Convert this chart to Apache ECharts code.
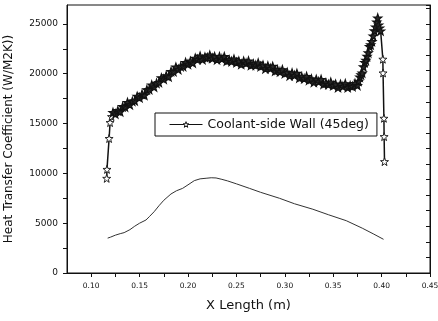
<!DOCTYPE html>
<html>
<head>
<meta charset="utf-8">
<script src="https://cdn.jsdelivr.net/npm/echarts@6/dist/echarts.min.js"></script>
<style>
html,body{margin:0;padding:0;background:#fff;}
#chart{width:438px;height:321px;}
</style>
</head>
<body>
<div id="chart"></div>
<script>
// Data
var legendName = 'Coolant-side Wall (45deg)';
var xAxisName = 'X Length (m)';
var yAxisName = 'Heat Transfer Coefficient (W/M2K))';

var wallX = [0.116,0.1163,0.1185,0.1195,0.121,
  0.1225,0.125,0.1275,0.13,0.1325,0.135,0.1375,0.14,0.1425,0.145,0.1475,0.15,0.1525,0.155,0.1575,0.16,0.1625,0.165,0.1675,0.17,0.1725,0.175,0.1775,0.18,0.1825,0.185,0.1875,0.19,0.1925,0.195,0.1975,0.2,0.2025,0.205,0.2075,0.21,0.2125,0.215,0.2175,0.22,0.2225,0.225,0.2275,0.23,0.2325,0.235,0.2375,0.24,0.2425,0.245,0.2475,0.25,0.2525,0.255,0.2575,0.26,0.2625,0.265,0.2675,0.27,0.2725,0.275,0.2775,0.28,0.2825,0.285,0.2875,0.29,0.2925,0.295,0.2975,0.3,0.3025,0.305,0.3075,0.31,0.3125,0.315,0.3175,0.32,0.3225,0.325,0.3275,0.33,0.3325,0.335,0.3375,0.34,0.3425,0.345,0.3475,0.35,0.3525,0.355,0.3575,0.36,0.3625,0.365,0.3675,0.37,0.3725,0.375,0.37625,0.3775,0.37875,0.38,0.38125,0.3825,0.38375,0.385,0.38625,0.3875,0.38875,0.39,0.39125,0.3925,0.39375,0.395,0.396,0.397,0.398,0.399,0.4013,0.4015,0.4024,0.4026,0.403];
var wallY = [9500,10400,13500,15100,15700,
  16110,15970,16300,16180,16700,16670,17110,16880,17230,17290,17730,17600,17950,17840,18390,18410,18880,18670,19050,19130,19590,19460,19810,19700,20230,20220,20670,20430,20730,20740,21130,20950,21250,21090,21560,21440,21770,21420,21660,21610,21870,21560,21720,21410,21720,21490,21720,21270,21400,21240,21470,21130,21270,20950,21270,21050,21290,20850,20990,20850,21080,20740,20850,20500,20780,20530,20740,20270,20380,20200,20400,20030,20140,19790,20080,19830,20040,19580,19690,19510,19720,19360,19480,19140,19440,19200,19420,18960,19080,18920,19150,18810,18950,18620,18940,18730,19000,18610,18810,18730,19030,18830,19250,19660,19900,20080,20700,21140,21350,21760,22100,22740,22900,23240,23800,24320,24700,25200,25600,24900,24600,24300,21460,20080,15530,13690,11180];

var lowerX = [0.117,0.120,0.125,0.130,0.134,0.140,0.145,0.150,0.1566,0.160,0.165,0.170,0.175,0.1824,0.188,0.1945,0.200,0.2065,0.2125,0.2187,0.224,0.229,0.235,0.241,0.250,0.2634,0.275,0.2945,0.310,0.329,0.345,0.3635,0.380,0.392,0.402];
var lowerY = [3500,3600,3800,3950,4050,4350,4700,5000,5320,5650,6150,6750,7300,7930,8250,8500,8850,9270,9450,9510,9560,9540,9400,9240,8950,8500,8100,7500,6950,6400,5850,5250,4500,3900,3380];

var starPath = 'path://M0,-10L2.35,-3.24L9.51,-3.09L3.8,1.24L5.88,8.09L0,4L-5.88,8.09L-3.8,1.24L-9.51,-3.09L-2.35,-3.24Z';
var FONT = 'DejaVu Sans';

// dense band points drawn dark, sparse end points hollow
var nHead = 5, nTail = 5;
var wallData = wallX.map(function (x, i) {
  var sparse = i < nHead || i >= wallX.length - nTail;
  return {
    value: [x, wallY[i]],
    itemStyle: sparse ? {color: '#fff', borderColor: '#111', borderWidth: 0.9}
                      : {color: '#2a2a2a', borderColor: '#111', borderWidth: 1.2}
  };
});
var lowerData = lowerX.map(function (x, i) { return [x, lowerY[i]]; });

var chart = echarts.init(document.getElementById('chart'), null, {renderer: 'canvas'});
chart.setOption({
  animation: false,
  backgroundColor: '#fff',
  textStyle: {fontFamily: FONT, color: '#111'},
  grid: {left: 67, right: 8, top: 5, bottom: 48, containLabel: false, outerBoundsMode: 'none',
         show: true, borderColor: '#111', borderWidth: 1, backgroundColor: 'transparent'},
  legend: {
    data: [legendName],
    left: 155, top: 113,
    padding: [5, 8, 5, 14],
    itemWidth: 33, itemHeight: 7, itemGap: 5,
    backgroundColor: '#fff',
    borderColor: '#111', borderWidth: 1, borderRadius: 0,
    itemStyle: {color: '#fff', borderColor: '#111', borderWidth: 1},
    lineStyle: {color: '#111', width: 1},
    textStyle: {fontFamily: FONT, fontSize: 12.5, color: '#111'}
  },
  xAxis: {
    type: 'value', min: 0.075, max: 0.45, interval: 0.025,
    name: xAxisName, nameLocation: 'middle', nameGap: 26,
    nameTextStyle: {fontFamily: FONT, fontSize: 13, color: '#111'},
    axisLine: {show: true, onZero: false, lineStyle: {color: '#111', width: 1}},
    axisTick: {show: true, inside: false, length: 4, lineStyle: {color: '#111'}},
    splitLine: {show: false},
    axisLabel: {
      fontFamily: FONT, fontSize: 7.5, color: '#111', margin: 9,
      showMinLabel: false, showMaxLabel: true,
      formatter: function (v) {
        var k = Math.round(v * 20);
        return Math.abs(v * 20 - k) < 1e-6 ? v.toFixed(2) : '';
      }
    }
  },
  yAxis: [{
    type: 'value', min: 0, max: 26900, interval: 2500,
    name: yAxisName, nameLocation: 'middle', nameGap: 52, nameRotate: 90,
    nameTextStyle: {fontFamily: FONT, fontSize: 12, color: '#111'},
    axisLine: {show: true, lineStyle: {color: '#111', width: 1}},
    axisTick: {show: true, inside: false, length: 4, lineStyle: {color: '#111'}},
    splitLine: {show: false},
    axisLabel: {
      fontFamily: FONT, fontSize: 9, color: '#111', margin: 9, showMaxLabel: false,
      formatter: function (v) { return v % 5000 === 0 ? String(v) : ''; }
    }
  }, {
    type: 'value', min: 0, max: 26900, interval: 1562.5, position: 'right',
    axisLine: {show: true, lineStyle: {color: '#111', width: 1}},
    axisTick: {show: true, inside: true, length: 4, lineStyle: {color: '#111'}},
    axisLabel: {show: false}, splitLine: {show: false}
  }],
  series: [{
    name: legendName, type: 'line', yAxisIndex: 0,
    data: wallData,
    symbol: starPath, symbolSize: 8, showAllSymbol: true,
    lineStyle: {color: '#111', width: 1.5},
    itemStyle: {color: '#fff', borderColor: '#111', borderWidth: 1},
    emphasis: {disabled: true}
  }, {
    name: 'lower', type: 'line', yAxisIndex: 0,
    data: lowerData,
    symbol: 'none',
    lineStyle: {color: '#333', width: 1},
    emphasis: {disabled: true}
  }]
});
</script>
</body>
</html>
